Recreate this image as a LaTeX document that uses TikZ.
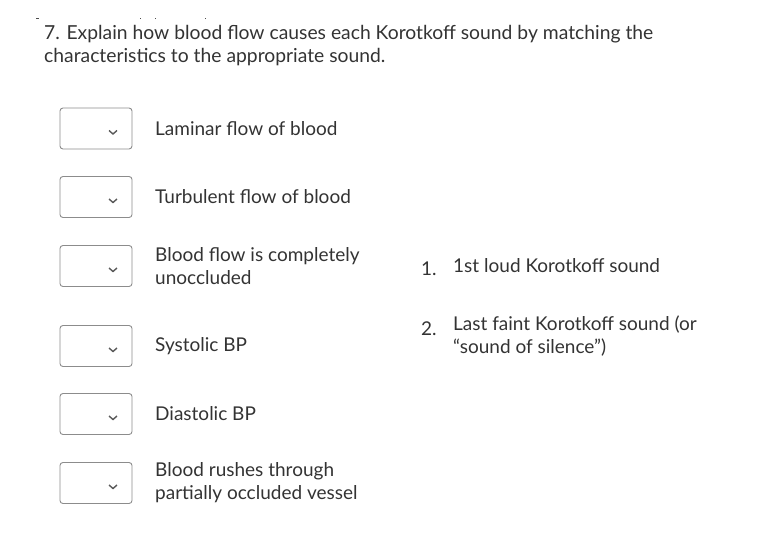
\documentclass[tikz,border=0pt]{standalone}
\usepackage{fontspec}
\setmainfont{Lato}
\begin{document}
\begin{tikzpicture}[x=1pt,y=-1pt,
  txt/.style={anchor=west,inner sep=0pt,font=\fontsize{19}{23}\selectfont,text=black!80,align=left},
  qtxt/.style={anchor=north west,inner sep=0pt,font=\fontsize{19.3}{23}\selectfont,text=black!80,align=left},
  dbox/.style={draw=black!45,line width=0.9pt,rounded corners=3pt,minimum width=72pt,minimum height=41pt,inner sep=0pt},
  chev/.style={draw=black!65,line width=1.4pt}]
\useasboundingbox (0,0) rectangle (767,538);
\foreach \a/\b in {36/39,140/141,155/156,205/206} \draw[black!70,line width=1pt] (\a,18) -- (\b,18);
\node[qtxt] (q) at (44,25) {7. Explain how blood flow causes each Korotkoff sound by matching the\\characteristics to the appropriate sound.};
\foreach \n/\y/\t in {1/128.5/{Laminar flow of blood},2/197/{Turbulent flow of blood},3/266/{Blood flow is completely\\unoccluded},4/346/{Systolic BP},5/414/{Diastolic BP},6/483/{Blood rushes through\\partially occluded vessel}}{
  \node[dbox] (b\n) at (96,\y) {};
  \draw[chev] ([xshift=-4pt,yshift=-2pt]b\n.center) ++(17,0) -- ++(4,3.5) -- ++(4,-3.5);
  \node[txt] (t\n) at (155,\y) {\t};
}
\node[txt] (n1) at (421,269) {1.};
\node[txt] (s1) at (453,266) {1st loud Korotkoff sound};
\node[txt] (n2) at (421,329) {2.};
\node[txt] (s2) at (453,336) {Last faint Korotkoff sound (or\\“sound of silence”)};
\end{tikzpicture}
\end{document}
